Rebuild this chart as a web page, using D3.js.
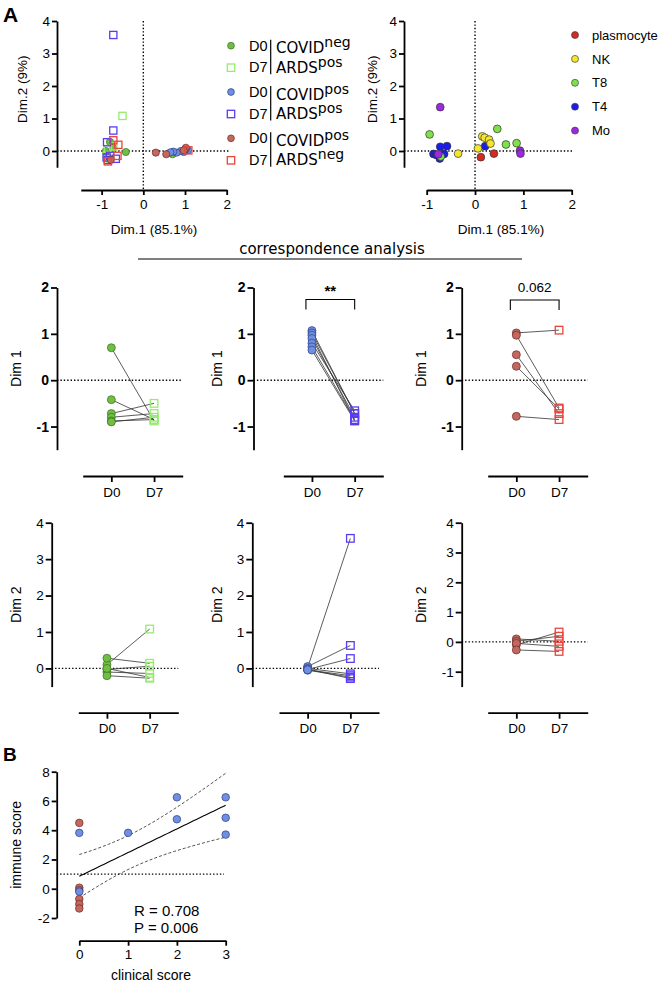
<!DOCTYPE html>
<html>
<head>
<meta charset="utf-8">
<script src="https://cdn.jsdelivr.net/npm/d3@7"></script>
<style>
  body { margin: 0; background: #fff; }
  svg { display: block; }
</style>
</head>
<body>
<svg id="fig" width="663" height="984"></svg>
<script>
const timepoints = ["D0", "D7"];

// COVIDneg ARDSpos (green), one entry per patient
const negPosD0Dim1 = [0.70, -0.42, -0.72, -0.80, -0.88, -0.90];
const negPosD7Dim1 = [-0.88, -0.85, -0.50, -0.72, -0.85, -0.80];
const negPosD0Dim2 = [-0.10, -0.03, 0.10, 0.28, -0.20, 0.00];
const negPosD7Dim2 = [-0.14, 0.06, 1.08, 0.14, -0.27, -0.25];

// COVIDpos ARDSpos (blue)
const posPosD0Dim1 = [1.07, 1.02, 0.97, 0.90, 0.80, 0.72, 0.65];
const posPosD7Dim1 = [-0.72, -0.72, -0.87, -0.80, -0.66, -0.85, -0.88];
const posPosD0Dim2 = [0.02, 0.05, -0.03, 0.00, -0.05, -0.02, -0.04];
const posPosD7Dim2 = [3.57, 0.63, 0.27, -0.15, -0.24, -0.28, -0.20];

// COVIDpos ARDSneg (red)
const posNegD0Dim1 = [1.02, 0.97, 0.55, 0.30, -0.78];
const posNegD7Dim1 = [1.08, -0.60, -0.72, -0.62, -0.85];
const posNegD0Dim2 = [0.10, 0.02, -0.10, -0.05, -0.27];
const posNegD7Dim2 = [0.02, 0.19, 0.33, -0.15, -0.32];

// cell types in the same CA space
const cellTypes = ["plasmocyte", "NK", "T8", "T4", "Mo"];
const plasmaDim1 = [0.12, 0.39];
const plasmaDim2 = [-0.19, -0.08];
const nkDim1 = [-0.35, 0.06, 0.15, 0.20, 0.29, 0.32];
const nkDim2 = [-0.08, 0.08, 0.45, 0.41, 0.35, 0.23];
const t8Dim1 = [-0.94, -0.71, 0.46, 0.64, 0.86];
const t8Dim2 = [0.51, -0.17, 0.68, 0.20, 0.24];
const t4Dim1 = [-0.86, -0.72, -0.58, -0.64, -0.73, -0.80, 0.21];
const t4Dim2 = [-0.09, 0.13, 0.15, -0.09, -0.23, -0.12, 0.15];
const moDim1 = [-0.72, -0.76, 0.93, 0.94];
const moDim2 = [1.35, -0.10, 0.01, -0.08];

// panel B
const clinRed = [0, 0, 0, 0, 0, 0];
const immRed = [4.5, 0.07, -0.1, -0.7, -1.05, -1.35];
const clinBlue = [0, 0, 1, 2, 2, 3, 3, 3];
const immBlue = [3.82, -0.2, 3.82, 6.25, 4.75, 6.25, 4.85, 3.7];
const statR = "R = 0.708";
const statP = "P = 0.006";

const dimTicksA = [0, 1, 2, 3, 4];
const dim1TicksA = [-1, 0, 1, 2];
const dim1Ticks = [-1, 0, 1, 2];
const dim2Ticks = [0, 1, 2, 3, 4];
const dim2TicksWide = [-1, 0, 1, 2, 3, 4];
const immTicks = [-2, 0, 2, 4, 6, 8];
const clinTicks = [0, 1, 2, 3];

const arial = '"Liberation Sans", Arial, Helvetica, sans-serif';
const vera = '"DejaVu Sans", Verdana, sans-serif';
const fmt = d => String(d);

const groups = [
  { d0x: negPosD0Dim1, d7x: negPosD7Dim1, d0y: negPosD0Dim2, d7y: negPosD7Dim2,
    covid: "neg", ards: "pos", fill: "#70bf44", edge: "#3b6e22", sq: "#95ec6e" },
  { d0x: posPosD0Dim1, d7x: posPosD7Dim1, d0y: posPosD0Dim2, d7y: posPosD7Dim2,
    covid: "pos", ards: "pos", fill: "#6f8fe4", edge: "#2e3f7d", sq: "#5a3cf2" },
  { d0x: posNegD0Dim1, d7x: posNegD7Dim1, d0y: posNegD0Dim2, d7y: posNegD7Dim2,
    covid: "pos", ards: "neg", fill: "#c4675f", edge: "#6a2b27", sq: "#e8453d" }
];

const cellSets = [
  { x: plasmaDim1, y: plasmaDim2, fill: "#d22b20" },
  { x: nkDim1, y: nkDim2, fill: "#f4e62c" },
  { x: t8Dim1, y: t8Dim2, fill: "#80e04a" },
  { x: t4Dim1, y: t4Dim2, fill: "#1c1ce8" },
  { x: moDim1, y: moDim2, fill: "#9c28e0" }
];

const svg = d3.select("#fig");

function styleAxis(g, size, bold) {
  g.select(".domain").attr("stroke", "#000").attr("stroke-width", 1.8);
  g.selectAll(".tick line").attr("stroke", "#000").attr("stroke-width", 1.8);
  g.selectAll(".tick text")
    .attr("fill", "#000")
    .style("font-family", arial)
    .style("font-size", size + "px")
    .style("font-weight", bold ? "bold" : "normal");
}

function dotted(x1, y1, x2, y2) {
  svg.append("line")
    .attr("x1", x1).attr("y1", y1).attr("x2", x2).attr("y2", y2)
    .attr("stroke", "#000").attr("stroke-width", 1.4)
    .attr("stroke-dasharray", "1.4 2");
}

function label(x, y, txt, size, opts = {}) {
  const t = svg.append("text")
    .attr("x", x).attr("y", y)
    .attr("text-anchor", opts.anchor || "middle")
    .style("font-family", opts.family || arial)
    .style("font-size", size + "px")
    .style("font-weight", opts.bold ? "bold" : "normal")
    .text(txt);
  if (opts.rotate) t.attr("transform", `rotate(-90,${x},${y})`);
  return t;
}

function circle(g, cx, cy, r, fill, edge) {
  g.append("circle").attr("cx", cx).attr("cy", cy).attr("r", r)
    .attr("fill", fill).attr("stroke", edge).attr("stroke-width", 0.7);
}

function square(g, cx, cy, s, color) {
  g.append("rect").attr("x", cx - s / 2).attr("y", cy - s / 2)
    .attr("width", s).attr("height", s)
    .attr("fill", "none").attr("stroke", color).attr("stroke-width", 1.3);
}

// ---------- A: sample scatter ----------
const syA = d3.scaleLinear().domain([-0.5, 4]).range([167.25, 21]);
const sxL = d3.scaleLinear().domain([-1.5, 2]).range([80.8, 226.7]);
const sxR = d3.scaleLinear().domain([-1, 2]).range([426.7, 571.7]);

function scatterFrame(sx, yAxisX, yLabelX, xLabelX) {
  dotted(yAxisX, syA(0), sx.range()[1] + 2, syA(0));
  dotted(sx(0), syA(4), sx(0), 190);
  svg.append("g").attr("transform", `translate(${yAxisX},0)`)
    .call(d3.axisLeft(syA).tickValues(dimTicksA).tickFormat(fmt).tickSize(5).tickSizeOuter(0).tickPadding(2))
    .call(g => styleAxis(g, 13.5));
  svg.append("g").attr("transform", "translate(0,190)")
    .call(d3.axisBottom(sx).tickValues(dim1TicksA).tickFormat(fmt).tickSize(5).tickSizeOuter(0).tickPadding(4))
    .call(g => styleAxis(g, 13.5));
  label(yLabelX, syA(1.9), "Dim.2 (9%)", 13.5, { rotate: true });
  label(xLabelX, 233.5, "Dim.1 (85.1%)", 13.5);
}

scatterFrame(sxL, 57, 27, 154);
scatterFrame(sxR, 404, 377, 501);

const gL = svg.append("g");
groups.forEach(grp => {
  grp.d0x.forEach((v, i) => circle(gL, sxL(v), syA(grp.d0y[i]), 3.6, grp.fill, grp.edge));
  grp.d7x.forEach((v, i) => square(gL, sxL(v), syA(grp.d7y[i]), 7.2, grp.sq));
});

const gR = svg.append("g");
[3, 1, 2, 0, 4].forEach(k => {
  const set = cellSets[k];
  set.x.forEach((v, i) => circle(gR, sxR(v), syA(set.y[i]), 3.9, set.fill, "#333"));
});

// legend left
groups.forEach((grp, k) => {
  const y0 = 45.7 + k * 46.3;
  circle(svg, 231, y0, 3.4, grp.fill, grp.edge);
  square(svg, 231, y0 + 22, 7.4, grp.sq);
  label(249, y0 + 4.8, "D0", 14.5, { anchor: "start" });
  label(249, y0 + 26.5, "D7", 14.5, { anchor: "start" });
  svg.append("line").attr("x1", 270.7).attr("x2", 270.7)
    .attr("y1", y0 - 6).attr("y2", y0 + 28.5)
    .attr("stroke", "#000").attr("stroke-width", 1.2);
  const c = label(276, y0 + 7.7, "COVID", 15, { anchor: "start", family: vera });
  c.append("tspan").attr("dy", -6).style("font-size", "14px").text(grp.covid);
  const a = label(276, y0 + 27, "ARDS", 15, { anchor: "start", family: vera });
  a.append("tspan").attr("dy", -6).style("font-size", "14px").text(grp.ards);
});

// legend right
cellTypes.forEach((name, k) => {
  const y0 = 35 + k * 23.9;
  circle(svg, 575, y0, 3.5, cellSets[k].fill, "#444");
  label(592, y0 + 4.6, name, 13, { anchor: "start" });
});

// panel letters
label(3, 22, "A", 21, { anchor: "start", bold: true });
label(3, 761, "B", 19, { anchor: "start", bold: true });

// title
label(332, 253.5, "correspondence analysis", 15, { family: vera });
svg.append("line").attr("x1", 138).attr("x2", 522).attr("y1", 259).attr("y2", 259)
  .attr("stroke", "#555").attr("stroke-width", 1.4);

// ---------- A: paired D0 / D7 panels ----------
function pairedPanel(p) {
  const y = d3.scaleLinear().domain(p.domain).range([p.bottom, p.top]);
  const x = d3.scalePoint().domain(timepoints).range([p.xStart, p.xStart + 100]).padding(0.67);
  dotted(p.yAxisX, y(0), p.xStart + 100, y(0));
  svg.append("g").attr("transform", `translate(${p.yAxisX},0)`)
    .call(d3.axisLeft(y).tickValues(p.ticks).tickFormat(fmt).tickSize(6).tickSizeOuter(0).tickPadding(2))
    .call(g => styleAxis(g, p.bold ? 14 : 13.5, p.bold));
  svg.append("g").attr("transform", `translate(0,${p.xAxisY})`)
    .call(d3.axisBottom(x).tickSize(6).tickSizeOuter(0).tickPadding(5))
    .call(g => styleAxis(g, 13.5));
  label(p.labelX, y((p.domain[0] + p.domain[1]) / 2), p.title, 14, { rotate: true });

  const a = p.grp[p.dim[0]], b = p.grp[p.dim[1]];
  const g = svg.append("g");
  a.forEach((v, i) => {
    g.append("line").attr("x1", x("D0")).attr("y1", y(v)).attr("x2", x("D7")).attr("y2", y(b[i]))
      .attr("stroke", "#333").attr("stroke-width", 0.8);
  });
  a.forEach(v => circle(g, x("D0"), y(v), 4, p.grp.fill, p.grp.edge));
  b.forEach(v => square(g, x("D7"), y(v), 7.6, p.grp.sq));
  return { x, y };
}

const row1 = [
  { yAxisX: 57, xStart: 82.7, labelX: 20.7 },
  { yAxisX: 253.5, xStart: 283.3, labelX: 221.7 },
  { yAxisX: 461.7, xStart: 487.7, labelX: 425.7 }
];
const row2 = [
  { yAxisX: 51.7, xStart: 78.3, labelX: 21.5, domain: [-0.5, 4], ticks: dim2Ticks },
  { yAxisX: 252.3, xStart: 279, labelX: 221.7, domain: [-0.5, 4], ticks: dim2Ticks },
  { yAxisX: 461.7, xStart: 487.7, labelX: 425.7, domain: [-1.5, 4], ticks: dim2TicksWide }
];

const mid = row1.map((r, k) => pairedPanel(Object.assign({}, r, {
  domain: [-1.5, 2], ticks: dim1Ticks, top: 287.5, bottom: 449.7, xAxisY: 476,
  bold: true, title: "Dim 1", grp: groups[k], dim: ["d0x", "d7x"]
})));
row2.forEach((r, k) => pairedPanel(Object.assign({}, r, {
  top: 522.7, bottom: 686.6, xAxisY: 712.7, bold: false,
  title: "Dim 2", grp: groups[k], dim: ["d0y", "d7y"]
})));

// significance brackets
function bracket(pan, txt, bold, yTop) {
  const x0 = pan.x("D0") - 6, x1 = pan.x("D7");
  svg.append("path")
    .attr("d", `M${x0},${yTop + 10}V${yTop}H${x1}V${yTop + 10}`)
    .attr("fill", "none").attr("stroke", "#000").attr("stroke-width", 1.1);
  label((x0 + x1) / 2, yTop - (bold ? 4 : 8), txt, bold ? 15 : 13.5, { bold });
}
bracket(mid[1], "**", true, 299.5);
bracket(mid[2], "0.062", false, 300);

// ---------- B: immune vs clinical score ----------
const bx = d3.scaleLinear().domain([0, 3]).range([79.3, 225.7]);
const by = d3.scaleLinear().domain([-2, 8]).range([918, 771.7]);

dotted(56.7, by(1), 224, by(1));
svg.append("g").attr("transform", "translate(56.7,0)")
  .call(d3.axisLeft(by).tickValues(immTicks).tickFormat(fmt).tickSize(5).tickSizeOuter(0).tickPadding(2))
  .call(g => styleAxis(g, 13.5));
svg.append("g").attr("transform", "translate(0,940.7)")
  .call(d3.axisBottom(bx).tickValues(clinTicks).tickFormat(fmt).tickSize(5).tickSizeOuter(0).tickPadding(4))
  .call(g => styleAxis(g, 13.5));
label(20.7, by(3), "immune score", 14, { rotate: true });
label(151, 980, "clinical score", 14);

// linear fit with 95% confidence band
const allX = clinRed.concat(clinBlue), allY = immRed.concat(immBlue);
const n = allX.length, mx = d3.mean(allX), my = d3.mean(allY);
const sxx = d3.sum(allX, v => (v - mx) ** 2);
const sxy = d3.sum(allX, (v, i) => (v - mx) * (allY[i] - my));
const slope = sxy / sxx, icpt = my - slope * mx;
const sse = d3.sum(allX, (v, i) => (allY[i] - icpt - slope * v) ** 2);
const se = Math.sqrt(sse / (n - 2)), tcrit = 2.179;
const xs = d3.range(0, 3.001, 0.05);
const band = s => d3.line()
  .x(v => bx(v))
  .y(v => by(icpt + slope * v + s * tcrit * se * Math.sqrt(1 / n + (v - mx) ** 2 / sxx)))(xs);

svg.append("path").attr("d", band(1)).attr("fill", "none").attr("stroke", "#222")
  .attr("stroke-width", 0.8).attr("stroke-dasharray", "3 2");
svg.append("path").attr("d", band(-1)).attr("fill", "none").attr("stroke", "#222")
  .attr("stroke-width", 0.8).attr("stroke-dasharray", "3 2");
svg.append("path").attr("d", band(0)).attr("fill", "none").attr("stroke", "#000")
  .attr("stroke-width", 1.1);

const gB = svg.append("g");
clinRed.forEach((v, i) => circle(gB, bx(v), by(immRed[i]), 3.8, groups[2].fill, groups[2].edge));
clinBlue.forEach((v, i) => circle(gB, bx(v), by(immBlue[i]), 3.8, groups[1].fill, groups[1].edge));

label(134, 916, statR, 15, { anchor: "start" });
label(134, 933, statP, 15, { anchor: "start" });
</script>
</body>
</html>
